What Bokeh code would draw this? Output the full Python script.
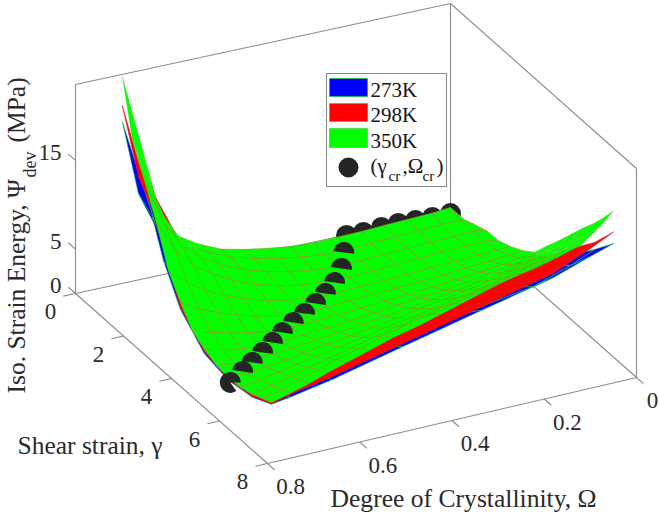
import math
from bokeh.plotting import figure
from bokeh.embed import file_html
from bokeh.resources import INLINE
from bokeh.models import Range1d
from bokeh.core.properties import value

# ---------- data ----------
gamma_grid = [0.58, 1.0, 1.5, 2.0, 2.5, 3.0, 3.5, 4.0, 4.5, 5.0, 5.5, 6.0, 6.4, 6.8]
omega_grid = [0, .03, .07, .12, .17, .22, .27, .32, .37, .42, .47, .52, .57, .61, .65, .69, .73]

psi_350 = [
    [0.6, 2.3, 2.1, 2.0, 1.9, 1.75, 1.72, 1.68, 1.8, 2.15, 2.6, 3.2, 4.4, 5.7, 9.0, 17.0, 25.1],
    [1.05, 1.9, 1.85, 1.7, 1.6, 1.45, 1.35, 1.35, 1.6, 2.0, 2.6, 3.3, 4.5, 5.8, 8.0, 13.0, 19.0],
    [1.57, 1.85, 1.7, 1.6, 1.5, 1.35, 1.25, 1.2, 1.35, 1.7, 2.3, 3.1, 4.3, 5.5, 7.3, 10.5, 15.5],
    [1.63, 1.9, 1.8, 1.7, 1.55, 1.4, 1.25, 1.2, 1.2, 1.4, 1.9, 2.6, 3.7, 4.8, 6.2, 8.5, 12.0],
    [2.15, 2.1, 2.0, 1.85, 1.7, 1.55, 1.4, 1.3, 1.2, 1.2, 1.5, 2.0, 2.8, 3.6, 4.6, 6.0, 7.7],
    [2.9, 2.7, 2.5, 2.3, 2.1, 1.9, 1.75, 1.6, 1.45, 1.3, 1.25, 1.5, 2.0, 2.6, 3.3, 4.2, 5.4],
    [3.9, 3.6, 3.3, 3.0, 2.75, 2.5, 2.25, 2.05, 1.85, 1.65, 1.5, 1.35, 1.45, 1.8, 2.2, 2.75, 3.4],
    [5.8, 5.0, 4.5, 4.1, 3.7, 3.35, 3.05, 2.75, 2.45, 2.2, 1.95, 1.75, 1.5, 1.45, 1.65, 2.0, 2.5],
    [7.6, 6.7, 6.0, 5.4, 4.9, 4.45, 4.05, 3.65, 3.3, 2.95, 2.6, 2.3, 2.0, 1.75, 1.55, 1.6, 1.9],
    [9.5, 8.4, 7.6, 6.9, 6.3, 5.75, 5.25, 4.8, 4.35, 3.9, 3.45, 3.05, 2.65, 2.3, 2.0, 1.75, 1.7],
    [11.4, 10.1, 9.2, 8.4, 7.7, 7.1, 6.55, 6.0, 5.5, 5.0, 4.45, 3.95, 3.45, 3.0, 2.6, 2.15, 1.8],
    [13.2, 11.9, 10.9, 10.1, 9.3, 8.7, 8.1, 7.5, 6.9, 6.3, 5.7, 5.0, 4.4, 3.85, 3.3, 2.75, 2.2],
    [14.8, 13.4, 12.2, 11.3, 10.5, 9.9, 9.3, 8.7, 8.1, 7.5, 6.8, 6.0, 5.3, 4.6, 3.9, 3.25, 2.7],
    [16.5, 15.0, 13.4, 12.6, 11.9, 11.4, 10.6, 9.8, 9.0, 8.2, 7.55, 6.7, 5.85, 5.2, 4.4, 3.8, 3.2],
]

gamma_coarse = [0.58, 1.25, 1.83, 2.3, 3.0, 4.0, 5.0, 6.0, 6.8]
omega_coarse = [0, .05, .13, .28, .45, .6, .69, .73]

psi_298 = [
    [0.5, 1.7, 1.6, 1.4, 2.1, 4.3, 14.0, 21.8],
    [1.0, 1.5, 1.4, 1.1, 1.7, 4.0, 10.0, 15.5],
    [1.3, 1.5, 1.4, 1.1, 1.4, 3.3, 7.5, 13.2],
    [1.6, 1.7, 1.5, 1.15, 1.1, 2.7, 5.4, 9.6],
    [2.5, 2.3, 1.9, 1.4, 1.1, 1.7, 3.3, 4.9],
    [4.6, 3.9, 3.2, 2.4, 1.7, 1.2, 1.7, 2.25],
    [7.9, 6.8, 5.4, 4.1, 3.0, 1.9, 1.45, 1.5],
    [11.0, 9.7, 8.1, 6.6, 4.8, 3.0, 2.2, 1.98],
    [14.1, 12.8, 10.9, 8.9, 6.65, 4.65, 3.65, 3.05],
]

psi_273 = [
    [0.5, 1.6, 1.5, 1.3, 2.0, 4.0, 13.0, 20.0],
    [0.9, 1.4, 1.3, 1.0, 1.6, 3.8, 9.0, 13.5],
    [1.2, 1.4, 1.3, 1.0, 1.3, 3.1, 7.0, 12.2],
    [1.5, 1.6, 1.4, 1.1, 1.0, 2.5, 5.0, 8.4],
    [2.3, 2.1, 1.8, 1.3, 1.0, 1.6, 3.1, 4.6],
    [4.2, 3.6, 3.0, 2.2, 1.6, 1.1, 1.5, 2.0],
    [7.2, 6.3, 5.0, 3.8, 2.8, 1.8, 1.35, 1.4],
    [10.2, 9.0, 7.5, 6.2, 4.5, 2.8, 2.05, 1.87],
    [12.8, 11.9, 10.4, 8.5, 6.3, 4.3, 3.35, 3.0],
]

# critical points: on the crease (half hidden by the surface) and along the back edge
cr_gamma_a = [5.2, 4.85, 4.57, 4.26, 3.95, 3.64, 3.33, 3.06, 2.76, 2.44, 2.10, 1.63, 1.04]
cr_omega_a = [.736, .692, .657, .619, .582, .545, .506, .468, .429, .392, .355, .316, .281]
cr_psi_a = [1.7, 1.6, 1.55, 1.5, 1.45, 1.4, 1.35, 1.3, 1.25, 1.2, 1.2, 1.2, 1.2]
cr_gamma_b = [.59, .65, .64, .66, .69, .75, .78]
cr_omega_b = [.252, .219, .18, .145, .11, .077, .04]
cr_psi_b = [1.7, 1.8, 1.9, 2.0, 2.0, 2.1, 2.2]

gamma_ticks = [0, 2, 4, 6, 8]
omega_ticks = [0, 0.2, 0.4, 0.6, 0.8]
omega_tick_labels = ["0", "0.2", "0.4", "0.6", "0.8"]
psi_ticks = [0, 5, 15]
legend_labels = ["273K", "298K", "350K"]

GAMMA_MAX, OMEGA_MAX, PSI_MAX = 8.0, 0.8, 23.56

# ---------- view ----------
SERIF = value("Liberation Serif")
INK = "#2a2a2a"
AXIS = "#8a8a8a"
W, H = 659, 520


def Y(y):
    return H - y


def surf(g, o, z):
    return 450 + 24 * g - 468.75 * o, Y(212 + 21.25 * g + 101.25 * o - 8.87 * z)


def box(g, o, z):
    u, v = g / GAMMA_MAX, o / OMEGA_MAX
    x = (1 - u) * (1 - v) * 450 + u * (1 - v) * 636 + (1 - u) * v * 75 + u * v * 267
    y = (1 - u) * (1 - v) * 212 + u * (1 - v) * 377 + (1 - u) * v * 293 + u * v * 463
    return x, Y(y - 8.87 * z)


p = figure(width=W, height=H, x_range=Range1d(0, W), y_range=Range1d(0, H),
           x_axis_location=None, y_axis_location=None, toolbar_location=None,
           output_backend="svg", min_border=0, outline_line_color=None,
           background_fill_color="white")
p.grid.visible = False


def seg(a, b, color=AXIS, width=1.1):
    p.line([a[0], b[0]], [a[1], b[1]], line_color=color, line_width=width)


def label(x, y, text, size, align="left", angle=0.0, color=INK):
    p.text([x], [Y(y)], text=[text], text_font=SERIF, text_font_size=f"{size}px",
           text_align=align, text_baseline="middle", angle=angle, text_color=color)


def baseline_label(x, y, text, size, angle=0.0, color=INK):
    if angle:
        label(x - 0.3 * size, y, text, size, angle=angle, color=color)
    else:
        label(x, y - 0.3 * size, text, size, color=color)


# box frame
for a, b in [((0, .8, 0), (0, .8, PSI_MAX)), ((0, .8, PSI_MAX), (0, 0, PSI_MAX)),
             ((0, 0, PSI_MAX), (8, 0, PSI_MAX)), ((8, 0, PSI_MAX), (8, 0, 0)),
             ((0, 0, 0), (0, 0, PSI_MAX)), ((0, .8, 0), (0, 0, 0)), ((0, 0, 0), (8, 0, 0)),
             ((0, .8, 0), (8, .8, 0)), ((8, .8, 0), (8, 0, 0))]:
    seg(box(*a), box(*b))

# ticks and their labels
for g in gamma_ticks:
    seg(box(g, OMEGA_MAX, 0), box(g, OMEGA_MAX + 0.026, 0))
    x, y = box(g, OMEGA_MAX, 0)
    label(x - 25, Y(y) + 18, str(g), 23, "center")
for o, t in zip(omega_ticks, omega_tick_labels):
    seg(box(GAMMA_MAX, o, 0), box(GAMMA_MAX + 0.3, o, 0))
    x, y = box(GAMMA_MAX, o, 0)
    label(x + (16 if o == 0 else 23), Y(y) + 23, t, 23, "center")
for z in psi_ticks:
    seg(box(0, OMEGA_MAX, z), box(-0.3, OMEGA_MAX, z))
    x, y = box(0, OMEGA_MAX, z)
    label(x - 14, Y(y) - 8, str(z), 23, "right")

# axis titles
baseline_label(24, 393, "Iso. Strain Energy, Ψ", 25.5, angle=math.pi / 2)
baseline_label(35, 177, "dev", 18, angle=math.pi / 2)
baseline_label(24, 142, "(MPa)", 25.5, angle=math.pi / 2)
baseline_label(17, 453, "Shear strain, γ", 25.5)
baseline_label(330, 506, "Degree of Crystallinity, Ω", 25.6)


def mesh(gs, os_, zs, fill, line, width, faint=None):
    xs, ys, alpha = [], [], []
    for i in range(len(gs) - 1):
        for j in range(len(os_) - 1):
            q = [surf(gs[i], os_[j], zs[i][j]), surf(gs[i + 1], os_[j], zs[i + 1][j]),
                 surf(gs[i + 1], os_[j + 1], zs[i + 1][j + 1]), surf(gs[i], os_[j + 1], zs[i][j + 1])]
            xs.append([c[0] for c in q])
            ys.append([c[1] for c in q])
            mean = (zs[i][j] + zs[i + 1][j] + zs[i + 1][j + 1] + zs[i][j + 1]) / 4
            alpha.append(0.3 if faint and mean > faint else 0.85)
    p.patches(xs, ys, fill_color=fill, line_color=line, line_width=width, line_alpha=alpha)


mesh(gamma_coarse, omega_coarse, psi_273, "#0000ff", "#20c040", 0.7)
mesh(gamma_coarse, omega_coarse, psi_298, "#ff0000", "#e02020", 0.7)

DOT = "#252525"
bx, by = zip(*[surf(g, o, z) for g, o, z in zip(cr_gamma_b, cr_omega_b, cr_psi_b)])
p.scatter(list(bx), list(by), size=21, marker="circle", fill_color=DOT, line_color=None)

mesh(gamma_grid, omega_grid, psi_350, "#00ff00", "#9a9a3a", 0.65, faint=4.0)

ax, ay = zip(*[surf(g, o, z) for g, o, z in zip(cr_gamma_a, cr_omega_a, cr_psi_a)])
starts = [math.radians(0)] + [math.radians(-8)] * (len(ax) - 1)
ends = [math.radians(305)] + [math.radians(172)] * (len(ax) - 1)
p.wedge(list(ax), list(ay), radius=10.5, start_angle=starts, end_angle=ends,
        fill_color=DOT, line_color=None)

# legend
p.quad(left=[326], right=[446], top=[Y(73)], bottom=[Y(186)], fill_color="white",
       line_color=AXIS, line_width=1.1)
for (top, bot, col, edge), t in zip([(78, 96, "#0000ff", "#20c040"), (103, 121, "#ff0000", "#ff6060"),
                                     (128, 147, "#00ff00", "#50d050")], legend_labels):
    p.quad(left=[329], right=[367], top=[Y(top)], bottom=[Y(bot)], fill_color=col, line_color=edge, line_width=0.8)
    baseline_label(370, bot, t, 21, color="#151515")
p.scatter([348], [Y(167)], size=20, marker="circle", fill_color=DOT, line_color=None)
baseline_label(370, 172, "(γ", 21, color="#151515")
baseline_label(388, 180, "cr", 15, color="#151515")
baseline_label(402, 172, ",Ω", 21, color="#151515")
baseline_label(422, 180, "cr", 15, color="#151515")
baseline_label(436, 172, ")", 21, color="#151515")

open("out.html", "w").write(file_html(p, INLINE))
